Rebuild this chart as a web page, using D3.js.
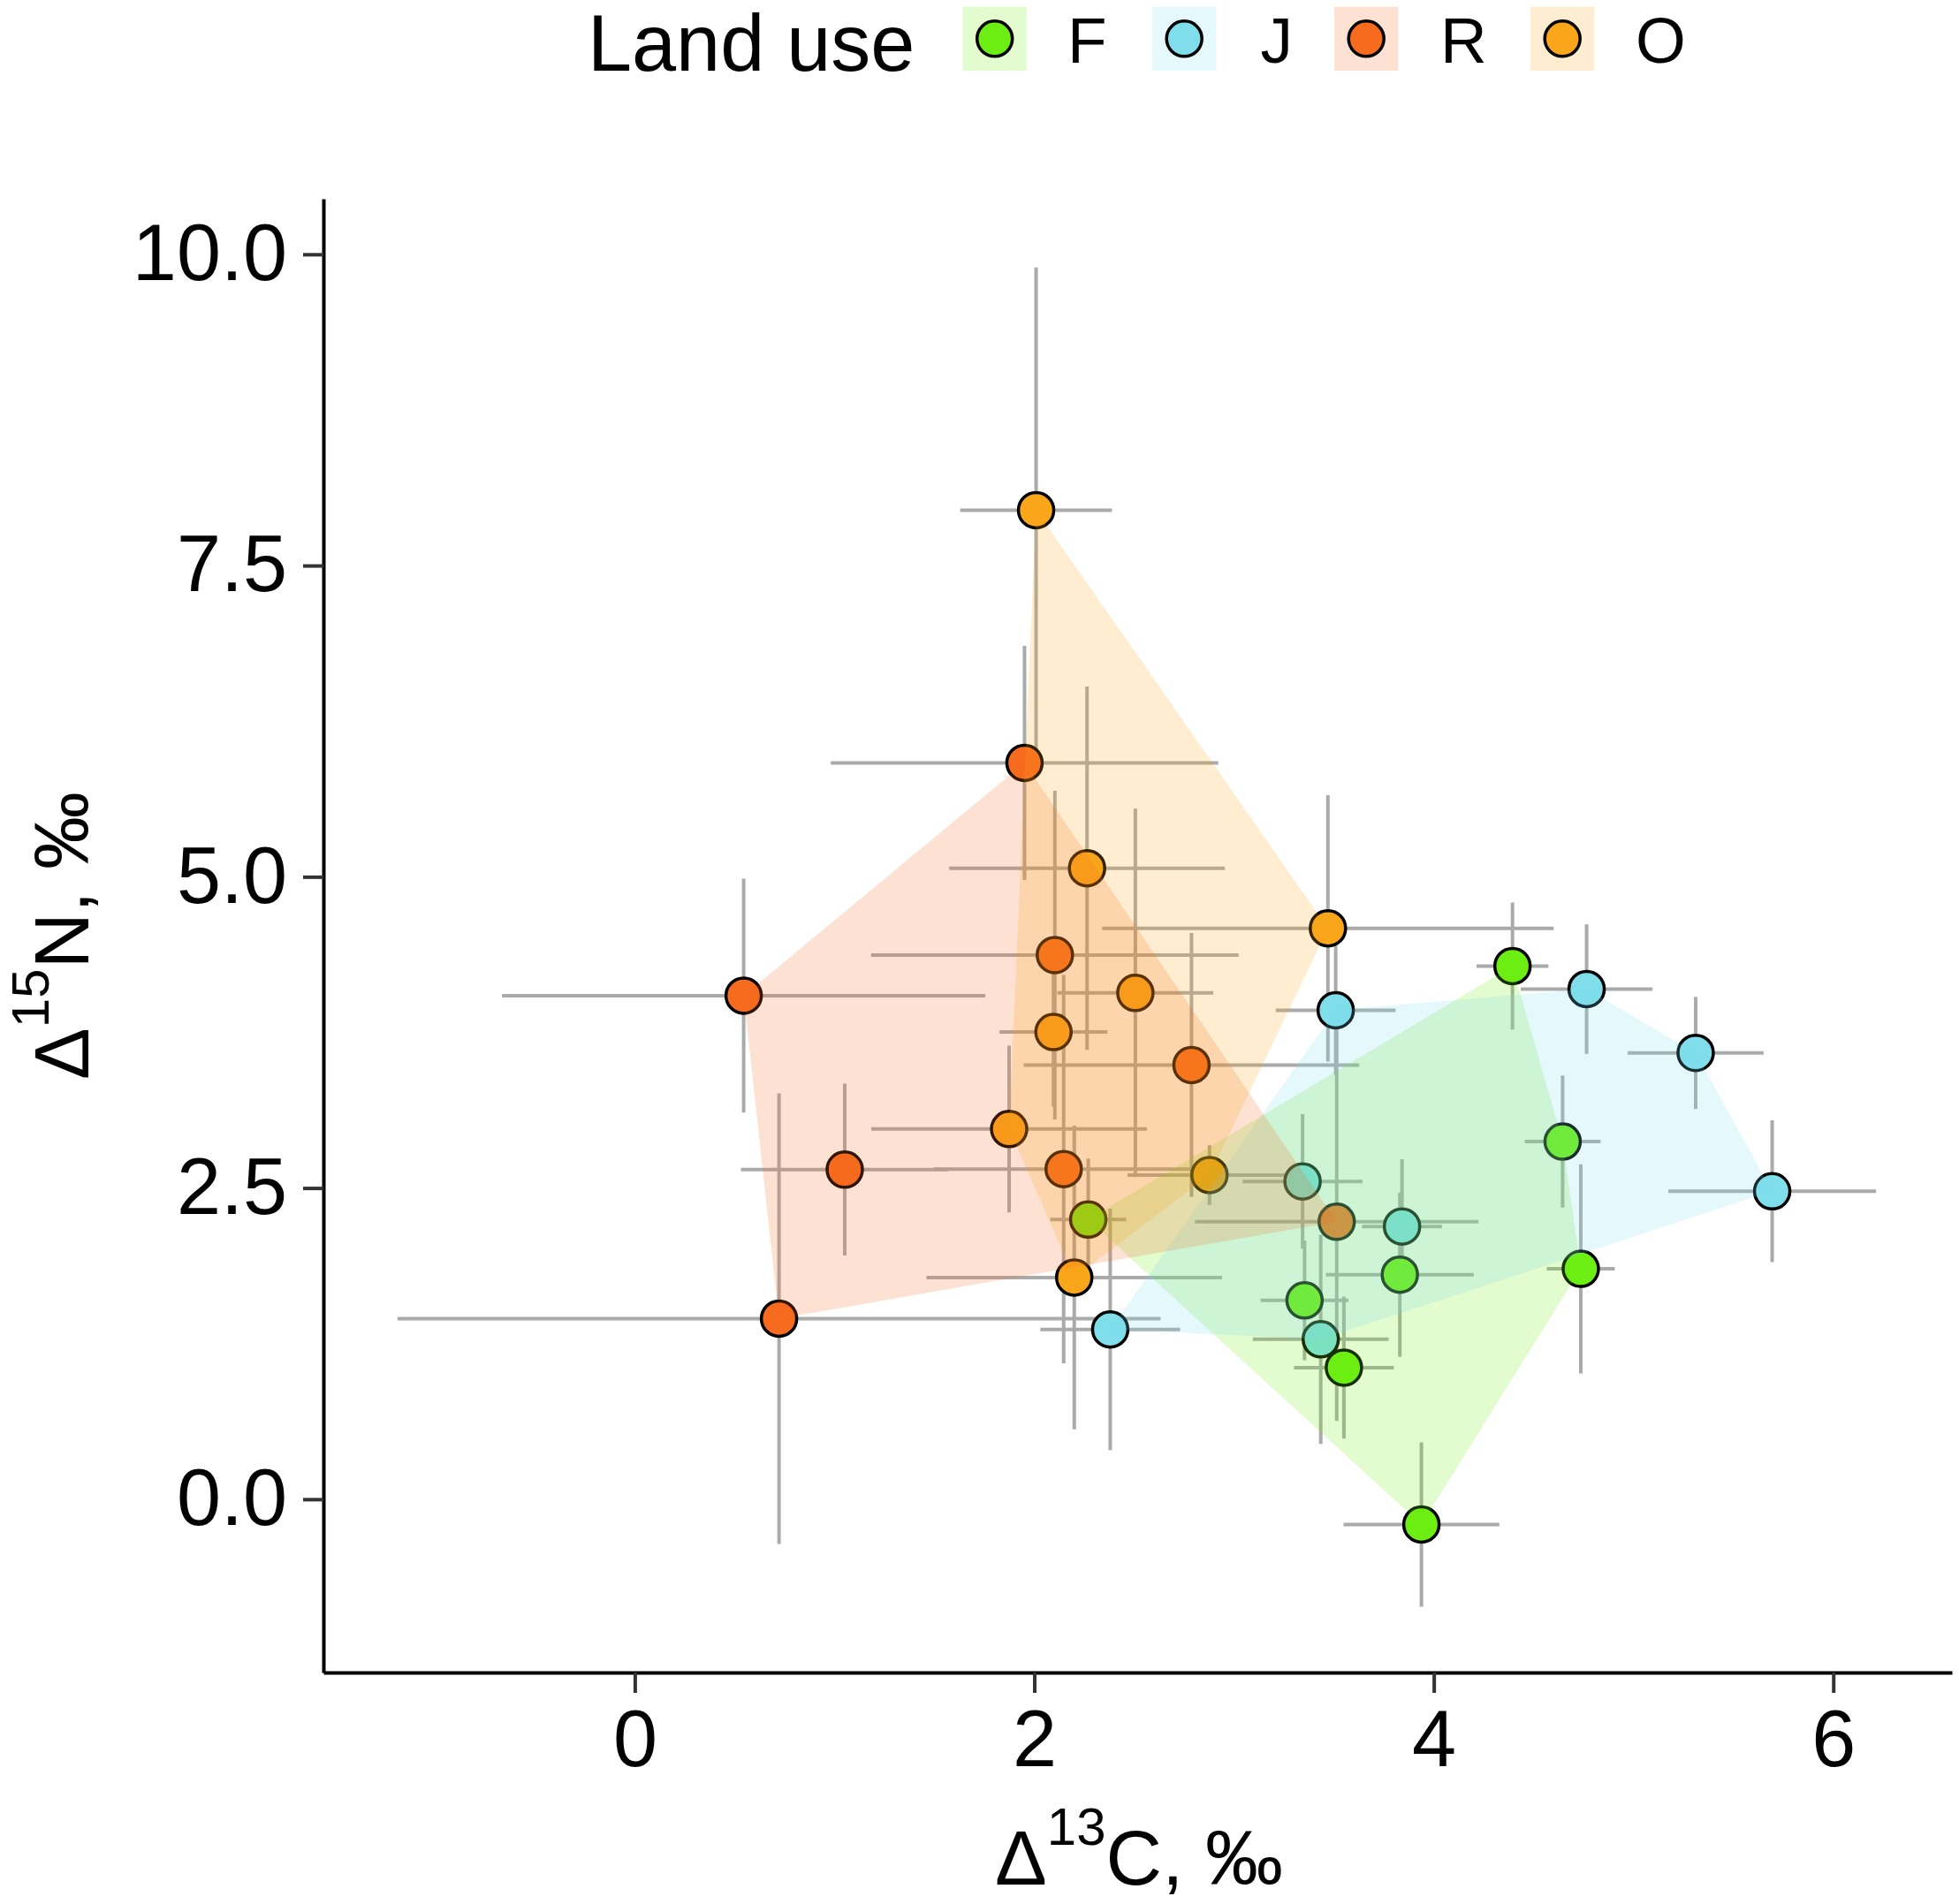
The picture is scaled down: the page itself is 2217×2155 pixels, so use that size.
<!DOCTYPE html>
<html>
<head>
<meta charset="utf-8">
<script src="https://cdn.jsdelivr.net/npm/d3@7"></script>
<style>
  html, body { margin: 0; padding: 0; background: #fff; }
  text { font-family: "Liberation Sans", Arial, sans-serif; fill: #000; }
</style>
</head>
<body>
<script>
// ─── DATA ────────────────────────────────────────────────────────────────────
const landUse     = ['F', 'J', 'R', 'O'];
const landColors  = ['#6CEE12', '#7FDEEA', '#F76B1F', '#F9A61B'];

// one row per sample, drawn in this order
const sampleGroup = ['J','J','J','J','J','J','J','J',
                     'R','R','R','R','R','R','R','R',
                     'O','O','O','O','O','O','O','O',
                     'F','F','F','F','F','F','F','F'];
const d13C    = [4.765, 5.311, 5.694, 3.509, 3.343, 3.841, 2.380, 3.434,
                 1.951, 2.103, 0.545, 2.787, 1.051, 2.147, 0.722, 3.514,
                 2.009, 2.264, 3.470, 2.506, 2.096, 1.874, 2.877, 2.200,
                 4.394, 4.645, 4.736, 3.938, 3.550, 3.353, 3.830, 2.270];
const d15N    = [4.098, 3.585, 2.474, 3.928, 2.553, 2.191, 1.364, 1.285,
                 5.915, 4.371, 4.045, 3.488, 2.648, 2.652, 1.451, 2.229,
                 7.945, 5.069, 4.586, 4.067, 3.753, 2.974, 2.604, 1.781,
                 4.283, 2.873, 1.851, -0.203, 1.057, 1.597, 1.804, 2.247];
const d13C_sd = [0.33, 0.34, 0.52, 0.30, 0.30, 0.20, 0.35, 0.34,
                 0.97, 0.92, 1.21, 0.84, 0.52, 0.65, 1.91, 0.71,
                 0.38, 0.69, 1.13, 0.39, 0.27, 0.69, 0.41, 0.74,
                 0.18, 0.19, 0.17, 0.39, 0.25, 0.22, 0.37, 0.19];
const d15N_sd = [0.52, 0.45, 0.57, 0.52, 0.54, 0.54, 0.97, 0.84,
                 0.94, 1.32, 0.94, 1.06, 0.69, 1.56, 1.81, 1.60,
                 1.95, 1.46, 1.07, 1.48, 0.60, 0.67, 0.24, 1.22,
                 0.51, 0.53, 0.84, 0.66, 0.57, 0.48, 0.66, 0.49];

const xTicks = [0, 2, 4, 6];
const yTicks = [0, 2.5, 5, 7.5, 10];

// ─── SETUP ───────────────────────────────────────────────────────────────────
const W = 2217, H = 2155;
const panel = { left: 366, right: 2209, top: 225, bottom: 1893 };

const svg = d3.select('body').append('svg')
  .attr('width', W).attr('height', H);

const data = sampleGroup.map((g, i) => ({
  group: g, x: d13C[i], y: d15N[i], sx: d13C_sd[i], sy: d15N_sd[i]
}));

const x = d3.scaleLinear().domain([-1.559, 6.594]).range([panel.left, panel.right]);
const y = d3.scaleLinear().domain([-1.392, 10.446]).range([panel.bottom, panel.top]);
const color = d3.scaleOrdinal().domain(landUse).range(landColors);

// ─── ERROR BARS ──────────────────────────────────────────────────────────────
const bars = svg.append('g')
  .attr('stroke', '#aaaaaa')
  .attr('stroke-width', 4);

bars.selectAll('line.h').data(data).join('line')
  .attr('class', 'h')
  .attr('x1', d => x(d.x - d.sx)).attr('x2', d => x(d.x + d.sx))
  .attr('y1', d => y(d.y)).attr('y2', d => y(d.y));

bars.selectAll('line.v').data(data).join('line')
  .attr('class', 'v')
  .attr('x1', d => x(d.x)).attr('x2', d => x(d.x))
  .attr('y1', d => y(d.y - d.sy)).attr('y2', d => y(d.y + d.sy));

// ─── POINTS ──────────────────────────────────────────────────────────────────
svg.append('g').selectAll('circle').data(data).join('circle')
  .attr('cx', d => x(d.x))
  .attr('cy', d => y(d.y))
  .attr('r', 20)
  .attr('fill', d => color(d.group))
  .attr('stroke', '#000')
  .attr('stroke-width', 3.5);

// ─── HULLS (drawn over the points, like the original) ───────────────────────
const hulls = svg.append('g');
landUse.forEach(g => {
  const pts = data.filter(d => d.group === g).map(d => [x(d.x), y(d.y)]);
  const hull = d3.polygonHull(pts);
  hulls.append('path')
    .attr('d', 'M' + hull.join('L') + 'Z')
    .attr('fill', color(g))
    .attr('fill-opacity', 0.2)
    .attr('stroke', 'none');
});

// ─── AXES ────────────────────────────────────────────────────────────────────
const xAxis = svg.append('g')
  .attr('transform', `translate(0,${panel.bottom})`)
  .call(d3.axisBottom(x).tickValues(xTicks).tickFormat(d3.format('d'))
    .tickSizeInner(23).tickSizeOuter(0).tickPadding(19));

const yAxis = svg.append('g')
  .attr('transform', `translate(${panel.left},0)`)
  .call(d3.axisLeft(y).tickValues(yTicks).tickFormat(d3.format('.1f'))
    .tickSizeInner(23).tickSizeOuter(0).tickPadding(18));

[xAxis, yAxis].forEach(ax => {
  ax.select('.domain').attr('stroke', '#000').attr('stroke-width', 4);
  ax.selectAll('.tick line').attr('stroke', '#333').attr('stroke-width', 4);
  ax.selectAll('.tick text')
    .attr('fill', '#000')
    .style('font-size', '90px')
    .style('font-family', '"Liberation Sans", Arial, sans-serif');
});

// axis titles
const xTitle = svg.append('text')
  .attr('x', 1289).attr('y', 2133)
  .attr('text-anchor', 'middle')
  .style('font-size', '88px');
xTitle.append('tspan').text('Δ');
xTitle.append('tspan').attr('dy', -45).style('font-size', '60px').text('13');
xTitle.append('tspan').attr('dy', 45).text('C, ‰');

const yTitle = svg.append('text')
  .attr('transform', `translate(100,1059) rotate(-90)`)
  .attr('text-anchor', 'middle')
  .style('font-size', '88px');
yTitle.append('tspan').text('Δ');
yTitle.append('tspan').attr('dy', -45).style('font-size', '60px').text('15');
yTitle.append('tspan').attr('dy', 45).text('N, ‰');

// ─── LEGEND ──────────────────────────────────────────────────────────────────
const legend = svg.append('g');
legend.append('text')
  .attr('x', 665).attr('y', 80)
  .style('font-size', '90px')
  .text('Land use');

const keyX   = [1089.5, 1304, 1510, 1732];
const labelX = [1208, 1426.5, 1630, 1851];
landUse.forEach((g, i) => {
  const k = legend.append('g').attr('transform', `translate(${keyX[i]},7.6)`);
  k.append('rect')
    .attr('width', 72.4).attr('height', 72.4)
    .attr('fill', color(g)).attr('fill-opacity', 0.2);
  k.append('circle')
    .attr('cx', 36.2).attr('cy', 36.2).attr('r', 20)
    .attr('fill', color(g))
    .attr('stroke', '#000').attr('stroke-width', 3.5);
  legend.append('text')
    .attr('x', labelX[i]).attr('y', 70.5)
    .style('font-size', '73px')
    .text(g);
});
</script>
</body>
</html>
